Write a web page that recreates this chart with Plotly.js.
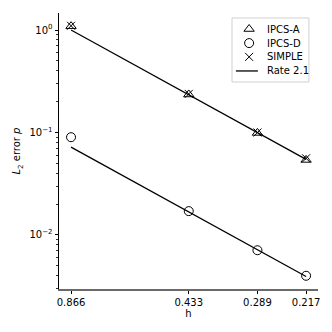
<!DOCTYPE html>
<html>
<head>
<meta charset="utf-8">
<script src="https://cdn.plot.ly/plotly-3.0.1.min.js"></script>
<style>html,body{margin:0;padding:0;background:#fff;}#chart{width:332px;height:332px;}</style>
</head>
<body>
<div id="chart"></div>
<script>
const h = [0.866, 0.433, 0.289, 0.217];
const hLabels = ["0.866", "0.433", "0.289", "0.217"];
const ipcsA = [1.09, 0.235, 0.099, 0.054];
const ipcsD = [0.090, 0.0171, 0.0071, 0.0040];
const simple = [1.10, 0.238, 0.100, 0.056];
const rateHigh = [1.0, 0.233, 0.0998, 0.0547];
const rateLow = [0.072, 0.0168, 0.00719, 0.00394];
const yMajor = [0.01, 0.1, 1];
const yMajorText = ["10<sup>−2</sup>", "10<sup>−1</sup>", "10<sup>0</sup>"];
const seriesNames = ["IPCS-A", "IPCS-D", "SIMPLE", "Rate 2.1"];

const minorVals = [];
[0.001, 0.01, 0.1, 1].forEach(d => { for (let k = 2; k <= 9; k++) minorVals.push(d * k); });

const mk = (sym, size) => ({symbol: sym, size: size, color: 'black', line: {color: 'black', width: 1}});
const symA = mk('triangle-up-open', 9), symD = mk('circle-open', 9), symS = mk('x-thin-open', 8);
const lineStyle = {color: 'black', width: 1.3};

const traces = [
  {x: h, y: ipcsA, name: seriesNames[0], mode: 'markers', type: 'scatter', marker: symA},
  {x: h, y: ipcsD, name: seriesNames[1], mode: 'markers', type: 'scatter', marker: symD},
  {x: h, y: simple, name: seriesNames[2], mode: 'markers', type: 'scatter', marker: symS},
  {x: h, y: rateHigh, name: seriesNames[3], mode: 'lines', type: 'scatter', line: lineStyle},
  {x: h, y: rateLow, name: seriesNames[3], mode: 'lines', type: 'scatter', line: lineStyle}
];

// custom compact legend (overlay axes in [0,1] = plot-area fractions)
const legRows = [0.942, 0.891, 0.841, 0.790];
const legSymX = 0.734, legTextX = 0.795;
traces.push({x: [legSymX], y: [legRows[0]], xaxis: 'x2', yaxis: 'y2', mode: 'markers', type: 'scatter', marker: symA, hoverinfo: 'skip'});
traces.push({x: [legSymX], y: [legRows[1]], xaxis: 'x2', yaxis: 'y2', mode: 'markers', type: 'scatter', marker: symD, hoverinfo: 'skip'});
traces.push({x: [legSymX], y: [legRows[2]], xaxis: 'x2', yaxis: 'y2', mode: 'markers', type: 'scatter', marker: symS, hoverinfo: 'skip'});
traces.push({x: [0.683, 0.768], y: [legRows[3], legRows[3]], xaxis: 'x2', yaxis: 'y2', mode: 'lines', type: 'scatter', line: lineStyle, hoverinfo: 'skip'});

const annotations = seriesNames.map((n, i) => ({
  x: legTextX, y: legRows[i], xref: 'x2', yref: 'y2', xanchor: 'left', yanchor: 'middle',
  text: n, showarrow: false, font: {size: 10, color: 'black'}
}));

const layout = {
  width: 332, height: 332,
  margin: {l: 59, r: 14, t: 13, b: 43},
  paper_bgcolor: 'white', plot_bgcolor: 'white',
  font: {family: 'DejaVu Sans', size: 10, color: 'black'},
  showlegend: false,
  shapes: [{type: 'rect', xref: 'x2', yref: 'y2', x0: 0.668, x1: 0.965, y0: 0.75, y1: 0.982,
            line: {color: '#d0d0d0', width: 1}, fillcolor: 'white', layer: 'below'}],
  annotations: annotations,
  xaxis: {
    type: 'log', range: [-0.0317, -0.694], autorange: false,
    tickmode: 'array', tickvals: h, ticktext: hLabels,
    ticks: 'outside', ticklen: 3.5, tickwidth: 1, tickcolor: 'black',
    showgrid: false, zeroline: false, showline: true, linecolor: '#6a6a6a', linewidth: 1.5,
    title: {text: 'h', font: {size: 10}, standoff: 2}
  },
  yaxis: {
    type: 'log', range: [-2.527, 0.166], autorange: false,
    tickmode: 'array', tickvals: yMajor, ticktext: yMajorText,
    ticks: 'outside', ticklen: 3.5, tickwidth: 1, tickcolor: 'black',
    minor: {tickmode: 'array', tickvals: minorVals, ticks: 'outside', ticklen: 2, tickwidth: 0.8, tickcolor: 'black', showgrid: false},
    showgrid: false, zeroline: false, showline: true, linecolor: 'black', linewidth: 1,
    title: {text: '<i>L</i><sub>2</sub> error <i>p</i>', font: {size: 10}, standoff: 6}
  },
  xaxis2: {overlaying: 'x', anchor: 'y2', range: [0, 1], autorange: false, visible: false, fixedrange: true},
  yaxis2: {overlaying: 'y', anchor: 'x2', range: [0, 1], autorange: false, visible: false, fixedrange: true}
};

Plotly.newPlot('chart', traces, layout, {displayModeBar: false, staticPlot: true});
</script>
</body>
</html>
